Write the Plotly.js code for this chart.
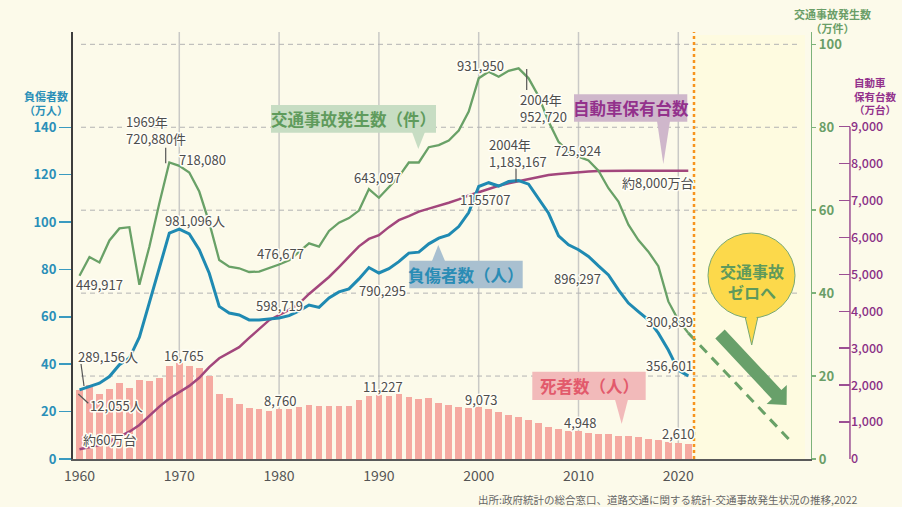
<!DOCTYPE html>
<html><head><meta charset="utf-8">
<script src="https://cdn.plot.ly/plotly-3.0.1.min.js"></script>
<style>html,body{margin:0;padding:0;background:#fcfaea;} #chart{width:902px;height:507px;}</style>
</head><body><div id="chart"></div>
<script>
// ---------- DATA ----------
const years = [1960,1961,1962,1963,1964,1965,1966,1967,1968,1969,1970,1971,1972,1973,1974,1975,1976,1977,1978,1979,
  1980,1981,1982,1983,1984,1985,1986,1987,1988,1989,1990,1991,1992,1993,1994,1995,1996,1997,1998,1999,
  2000,2001,2002,2003,2004,2005,2006,2007,2008,2009,2010,2011,2012,2013,2014,2015,2016,2017,2018,2019,2020,2021];
// 死者数（人）
const deaths = [12055,13000,11430,12250,13300,12480,13880,13700,14230,16330,16765,16330,16030,14630,11430,10730,9730,9030,8800,8450,
  8760,8800,9150,9560,9330,9330,9330,9330,10380,11080,11227,11080,11430,10900,10550,10730,9850,9500,9150,8980,
  9073,8800,8280,7750,7400,6880,6350,5650,5300,4950,4948,4600,4430,4430,4080,4080,3900,3550,3380,3030,2850,2610];
// 交通事故発生数（万件）
const accidents = [44.2,48.7,47.4,52.7,55.6,55.9,42.0,51.2,61.7,71.5,70.7,69.1,64.5,57.0,48.0,46.4,46.0,45.1,45.2,46.0,
  46.9,47.9,50.0,52.0,51.2,55.0,57.0,58.1,59.9,65.1,63.0,65.5,68.1,71.5,71.5,75.2,75.7,76.8,79.2,83.8,
  91.8,93.4,92.2,93.6,94.2,91.8,87.5,81.4,76.5,74.0,72.9,72.0,69.5,65.3,62.1,56.5,52.8,50.0,46.5,38.0,33.5,30.4];
// 負傷者数（万人）
const injured = [29.2,30.6,32.0,34.8,39.8,42.6,51.4,66.0,81.2,95.3,97.0,95.0,88.3,78.4,64.4,61.6,60.8,58.7,58.7,59.0,
  59.5,60.5,62.5,65.0,64.0,68.0,70.5,71.8,76.0,80.8,78.5,80.3,83.3,86.9,87.3,90.8,93.2,94.6,98.1,104.0,
  115.0,116.6,115.2,117.1,117.5,116.0,110.1,103.7,94.2,90.4,88.3,85.5,81.5,77.7,71.4,65.8,62.2,58.7,53.1,46.0,37.5,35.1];
// 自動車保有台数（万台）
const vehicles = [265,330,380,470,600,740,920,1170,1420,1640,1800,1980,2200,2490,2730,2880,3030,3280,3520,3760,
  3900,4040,4210,4470,4700,4930,5200,5480,5760,5960,6060,6280,6470,6580,6700,6780,6850,6940,7030,7140,
  7225,7320,7400,7470,7530,7590,7640,7690,7720,7750,7775,7790,7800,7810,7810,7810,7810,7810,7810,7810,7810,7810];
// 交通事故ゼロへ（見通し）
const goalYears = [2021, 2031.3];
const goalValues = [30.4, 4.2];

const xTicks = [1960,1970,1980,1990,2000,2010,2020];
const leftTicks = [0,20,40,60,80,100,120,140];
const greenTicks = [0,20,40,60,80,100];
const purpleTicks = [0,1000,2000,3000,4000,5000,6000,7000,8000,9000];
const purpleTickText = ['0','1,000','2,000','3,000','4,000','5,000','6,000','7,000','8,000','9,000'];

// ---------- GEOMETRY HELPERS ----------
const W=902,H=507,ML=73,MR=20,MT=32,MB=48;
const PW=W-ML-MR, PH=H-MT-MB;
const px = x => (x-ML)/PW;
const py = y => (H-MB-y)/PH;
const FONT='"Noto Sans CJK JP", "Noto Sans", sans-serif';
const BG='#fcfaea';
const GREEN='#69a167', BLUE='#1f8ab2', PURPLE='#a2467c', BAR='#f5aaa1';

const traces = [
  {type:'bar', x:years, y:deaths, xaxis:'x', yaxis:'y', marker:{color:BAR}, width:0.67, hoverinfo:'skip'},
  {type:'scatter', mode:'lines', x:years, y:vehicles, xaxis:'x', yaxis:'y2', line:{color:PURPLE, width:2.5}, hoverinfo:'skip'},
  {type:'scatter', mode:'lines', x:years, y:injured, xaxis:'x', yaxis:'y3', line:{color:BLUE, width:3}, hoverinfo:'skip'},
  {type:'scatter', mode:'lines', x:goalYears, y:goalValues, xaxis:'x', yaxis:'y4', line:{color:GREEN, width:3, dash:'10px,7px'}, hoverinfo:'skip'},
  {type:'scatter', mode:'lines', x:years, y:accidents, xaxis:'x', yaxis:'y4', line:{color:GREEN, width:2.3}, hoverinfo:'skip'}
];

const shapes = [];
shapes.push({type:'rect', xref:'paper', yref:'paper', x0:px(694), x1:px(805), y0:py(459), y1:py(35), fillcolor:'#fefbe0', line:{width:0}, layer:'below'});
xTicks.filter(v=>v!==1960).forEach(v=>shapes.push({type:'line', xref:'x', yref:'paper', x0:v, x1:v, y0:0, y1:1, line:{color:'#c9c9c6', width:1.5}, layer:'below'}));
greenTicks.filter(v=>v>0).forEach(v=>shapes.push({type:'line', xref:'paper', yref:'y4', x0:px(81), x1:px(800), y0:v, y1:v, line:{color:'#b3b3b3', width:1, dash:'5px,4px'}, layer:'below'}));
shapes.push({type:'line', xref:'paper', yref:'paper', x0:px(694), x1:px(694), y0:0, y1:1, line:{color:'#f7941d', width:2.5, dash:'dot'}});
shapes.push({type:'line', xref:'paper', yref:'y2', x0:0.9604, x1:0.9604, y0:0, y1:9000, line:{color:'#9b4f93', width:1.5}});

function poly(pts){ return pts.map((p,i)=>(i?'L':'M')+px(p[0]).toFixed(5)+','+py(p[1]).toFixed(5)).join(' ')+' Z'; }
function box(x0,x1,y0,y1,color){ shapes.push({type:'rect', xref:'paper', yref:'paper', x0:px(x0), x1:px(x1), y0:py(y1), y1:py(y0), fillcolor:color, line:{width:0}}); }
function tri(pts,color){ shapes.push({type:'path', xref:'paper', yref:'paper', path:poly(pts), fillcolor:color, line:{width:0}}); }

box(271,436,105,132.7,'#c7ddc3'); tri([[412,132],[425,132],[418.3,149]],'#c7ddc3');
box(409.3,522.7,260.7,288.3,'#a9c0d0'); tri([[432,261],[445,261],[438.3,245]],'#a9c0d0');
box(574,687.3,94.3,121.7,'#cfb7cb'); tri([[657,121],[670,121],[663.3,164]],'#cfb7cb');
box(532.3,645.7,371.7,400,'#f2baba'); tri([[615,399.5],[628,399.5],[621.7,424]],'#f2baba');

function seg(x0,y0,x1,y1){ shapes.push({type:'line', xref:'paper', yref:'paper', x0:px(x0), x1:px(x1), y0:py(y0), y1:py(y1), line:{color:'#555', width:1.2}}); }
seg(165.7,147.7,165.7,163.3);
seg(526.7,69,526.7,90);
seg(516,168.3,516,181.7);
seg(81,364,84,386);
seg(78.3,394,88.3,403.3);

shapes.push({type:'path', xref:'paper', yref:'paper', path:poly([[744,312],[759,312],[751.7,345]]), fillcolor:'#fcd94b', line:{color:'#78a872', width:1}});
shapes.push({type:'circle', xref:'paper', yref:'paper', x0:px(708), x1:px(795), y0:py(318), y1:py(233), fillcolor:'#fcd94b', line:{color:'#78a872', width:1}});
shapes.push({type:'path', xref:'paper', yref:'paper', path:poly([[745.8,311],[757.2,311],[756.4,320],[746.8,320]]), fillcolor:'#fcd94b', line:{width:0}});

shapes.push({type:'path', xref:'paper', yref:'paper', path:poly([[715.3,338.5],[771.9,399],[766.6,403.9],[786.6,405.1],[786.8,385.1],[781.4,390],[724.7,329.5]]), fillcolor:'#68a06a', line:{width:0}});

// ---------- ANNOTATIONS ----------
const annotations = [];
const haloIdx = [];
function lab(text,x,y,o){ o=o||{};
  annotations.push({text:text, xref:'paper', yref:'paper', x:px(x), y:py(y), xanchor:o.xa||'left', yanchor:'middle', align:o.align||'left', showarrow:false,
    font:{family:FONT, size:o.size||13, color:o.color||'#4d4d4d', weight:o.weight||400}, borderpad:0});
  if(o.halo!==false) haloIdx.push(annotations.length-1);
}
const vals = [
  ['1969年<br>720,880件',125,129.5],['718,080',178,159.3],['981,096人',164,220.7],['449,917',75,284],
  ['289,156人',77,356],['12,055人',89.3,405.7],['約60万台',81.7,439],['16,765',162.7,355],['8,760',262.7,400.7],
  ['476,677',256,253.3],['598,719',255,305],['643,097',352.7,177.3],['790,295',358.3,290],['1155707',459.3,199.3],
  ['931,950',456,65.7],['2004年<br>952,720',519,107.7],['2004年<br>1,183,167',487.7,152.8],
  ['725,924',553.3,150],['896,297',553.3,278.3],['約8,000万台',620.7,182.7],['300,839',645,321],['356,601',645,365],
  ['11,227',361.7,386],['9,073',464,399],['4,948',563.3,422.3],['2,610',660.7,433.3]
];
vals.forEach(v=>lab(v[0],v[1],v[2]));

lab('交通事故発生数（件）',353.5,119,{xa:'center',size:16.5,color:'#5f9b5c',weight:700,halo:false});
lab('負傷者数（人）',466,274.5,{xa:'center',size:16.5,color:'#2a8cb5',weight:700,halo:false});
lab('自動車保有台数',630.7,108,{xa:'center',size:16.5,color:'#93318c',weight:700,halo:false});
lab('死者数（人）',589,386,{xa:'center',size:16.5,color:'#e25a6c',weight:700,halo:false});
lab('交通事故<br>ゼロへ',751.5,281,{xa:'center',align:'center',size:16,color:'#5f9a5c',weight:700,halo:false});

lab('負傷者数<br>（万人）',46,103.5,{xa:'center',align:'center',size:11,color:'#2a8fb8',weight:700,halo:false});
lab('交通事故発生数<br>（万件）',832,20.5,{xa:'center',align:'center',size:11,color:'#6a9e67',weight:700,halo:false});
lab('自動車<br>保有台数<br>（万台）',853,96,{size:10.5,color:'#93318c',weight:700,halo:false});

lab('出所:政府統計の総合窓口、道路交通に関する統計-交通事故発生状況の推移,2022',858,499.5,{xa:'right',size:10.5,color:'#666',halo:false});

const layout = {
  width:W, height:H, margin:{l:ML,r:MR,t:MT,b:MB,pad:0},
  paper_bgcolor:BG, plot_bgcolor:BG, showlegend:false, bargap:0,
  font:{family:FONT, color:'#555'},
  xaxis:{domain:[0,(810.7-ML)/PW], range:[1960+(73-79.5)/9.98, 1960+(810.7-79.5)/9.98], anchor:'y',
    tickvals:xTicks, ticktext:xTicks.map(String), ticks:'', ticklabelstandoff:4, showgrid:false, zeroline:false,
    showline:true, linecolor:'#5a5a5a', linewidth:1.5, tickfont:{family:FONT,size:14,color:'#555'}},
  yaxis:{range:[0,74900], visible:false, showgrid:false, zeroline:false},
  yaxis2:{overlaying:'y', side:'right', anchor:'free', position:0.9604, range:[0,11565],
    tickvals:purpleTicks, ticktext:purpleTickText, ticks:'inside', ticklen:11, tickwidth:1.5, tickcolor:'#9b4f93',
    showline:false, showgrid:false, zeroline:false, tickfont:{family:FONT,size:12.5,color:'#8a2f86',weight:500}},
  yaxis3:{overlaying:'y', side:'left', anchor:'x', range:[0,180.2], tickvals:leftTicks,
    ticks:'outside', ticklen:12, tickwidth:1.5, tickcolor:'#3a9ac0', showline:true, linecolor:'#3d3d3d', linewidth:2,
    showgrid:false, zeroline:false, tickfont:{family:FONT,size:13,color:'#2a8fb8',weight:700}},
  yaxis4:{overlaying:'y', side:'right', anchor:'x', range:[0,102.97], tickvals:greenTicks,
    ticks:'outside', ticklen:4, tickwidth:1.5, tickcolor:'#7cb27a', showline:true, linecolor:'#7cb27a', linewidth:1.5,
    showgrid:false, zeroline:false, tickfont:{family:FONT,size:13,color:'#6a9e67',weight:700}},
  shapes:shapes, annotations:annotations
};

Plotly.newPlot('chart', traces, layout, {staticPlot:true, displayModeBar:false}).then(gd=>{
  haloIdx.forEach(i=>{
    const t = gd.querySelector('.annotation[data-index="'+i+'"] .annotation-text');
    if(t){ t.style.paintOrder='stroke'; t.style.stroke='#fffef6'; t.style.strokeWidth='3px'; t.style.strokeLinejoin='round'; }
  });
});
</script>
</body></html>
